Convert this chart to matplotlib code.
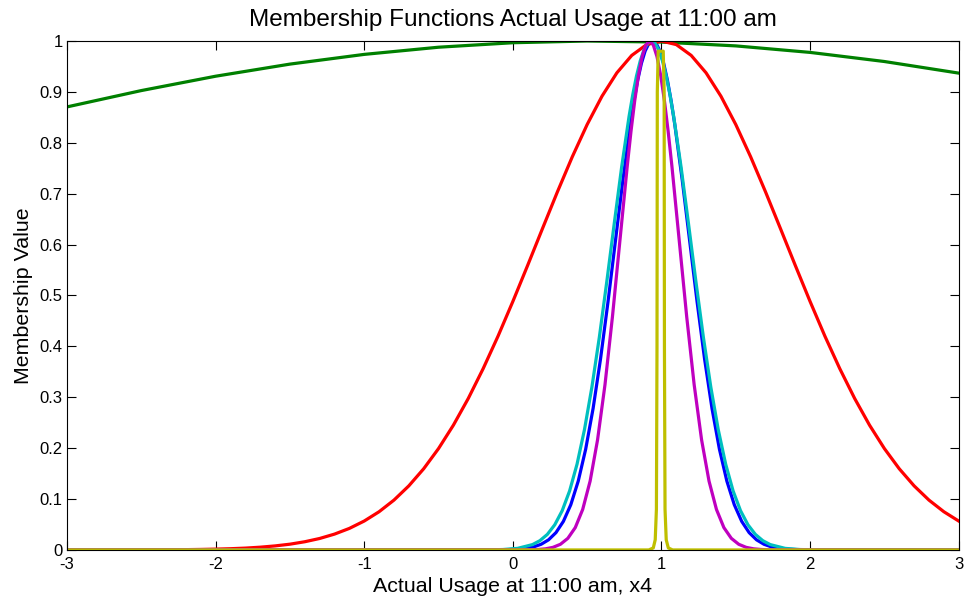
import matplotlib
matplotlib.use('Agg')
import matplotlib.pyplot as plt

plt.rcParams['font.family'] = ['Liberation Sans', 'DejaVu Sans']
plt.rcParams['axes.unicode_minus'] = False

# membership curves (x, y pairs per curve)
blue_x = [-3, -0.06, 0.04, 0.14, 0.19, 0.24, 0.29, 0.34, 0.39, 0.44, 0.49, 0.54, 0.59, 0.64, 0.69, 0.74,
          0.79, 0.815, 0.84, 0.865, 0.89, 0.915, 0.94, 0.965, 0.99, 1.015, 1.04, 1.065, 1.09, 1.14, 1.19,
          1.24, 1.29, 1.34, 1.39, 1.44, 1.49, 1.54, 1.59, 1.64, 1.69, 1.74, 1.84, 1.94, 3]
blue_y = [0, 0.0003, 0.0015, 0.0060, 0.0111, 0.0198, 0.0340, 0.0561, 0.0889, 0.1353, 0.1979, 0.2780,
          0.3753, 0.4868, 0.6065, 0.7261, 0.8353, 0.8825, 0.9231, 0.9560, 0.9802, 0.9950, 1.0, 0.9950,
          0.9802, 0.9560, 0.9231, 0.8825, 0.8353, 0.7261, 0.6065, 0.4868, 0.3753, 0.2780, 0.1979, 0.1353,
          0.0889, 0.0561, 0.0340, 0.0198, 0.0111, 0.0060, 0.0015, 0.0003, 0]

green_x = [-3, -2.5, -2, -1.5, -1, -0.5, 0, 0.5, 1, 1.5, 2, 2.5, 3]
green_y = [0.8705, 0.9026, 0.9308, 0.9546, 0.9737, 0.9878, 0.9966, 1.0, 0.9979, 0.9904, 0.9776, 0.9597, 0.9369]

red_x = [-3.0, -2.9, -2.8, -2.7, -2.6, -2.5, -2.4, -2.3, -2.2, -2.1, -2.0, -1.9, -1.8, -1.7, -1.6, -1.5,
         -1.4, -1.3, -1.2, -1.1, -1.0, -0.9, -0.8, -0.7, -0.6, -0.5, -0.4, -0.3, -0.2, -0.1, 0.0, 0.1,
         0.2, 0.3, 0.4, 0.5, 0.6, 0.7, 0.8, 0.9, 1.0, 1.1, 1.2, 1.3, 1.4, 1.5, 1.6, 1.7, 1.8, 1.9, 2.0,
         2.1, 2.2, 2.3, 2.4, 2.5, 2.6, 2.7, 2.8, 2.9, 3.0]
red_y = [0.0, 0.0, 0.0, 0.0001, 0.0001, 0.0002, 0.0003, 0.0004, 0.0006, 0.0010, 0.0016, 0.0024, 0.0036,
         0.0054, 0.0079, 0.0113, 0.0161, 0.0225, 0.0311, 0.0423, 0.0568, 0.0751, 0.0979, 0.1259, 0.1595,
         0.1992, 0.2452, 0.2976, 0.3561, 0.4199, 0.4882, 0.5594, 0.6319, 0.7037, 0.7725, 0.8359, 0.8916,
         0.9375, 0.9717, 0.9929, 1.0, 0.9929, 0.9717, 0.9375, 0.8916, 0.8359, 0.7725, 0.7037, 0.6319,
         0.5594, 0.4882, 0.4199, 0.3561, 0.2976, 0.2452, 0.1992, 0.1595, 0.1259, 0.0979, 0.0751, 0.0568]

cyan_x = [-3, -0.168, -0.068, 0.032, 0.132, 0.182, 0.232, 0.282, 0.332, 0.382, 0.432, 0.482, 0.532, 0.582,
          0.632, 0.682, 0.732, 0.782, 0.807, 0.832, 0.857, 0.882, 0.907, 0.932, 0.957, 0.982, 1.007,
          1.032, 1.057, 1.082, 1.132, 1.182, 1.232, 1.282, 1.332, 1.382, 1.432, 1.482, 1.532, 1.582,
          1.632, 1.682, 1.732, 1.832, 1.932, 2.032, 3]
cyan_y = [0, 0.0002, 0.0008, 0.0031, 0.0105, 0.0182, 0.0305, 0.0494, 0.0771, 0.1160, 0.1686, 0.2365,
          0.3201, 0.4180, 0.5269, 0.6408, 0.7522, 0.8520, 0.8947, 0.9313, 0.9607, 0.9824, 0.9956, 1.0,
          0.9956, 0.9824, 0.9607, 0.9313, 0.8947, 0.8520, 0.7522, 0.6408, 0.5269, 0.4180, 0.3201, 0.2365,
          0.1686, 0.1160, 0.0771, 0.0494, 0.0305, 0.0182, 0.0105, 0.0031, 0.0008, 0.0002, 0]

magenta_x = [-3, 0.12, 0.17, 0.22, 0.27, 0.32, 0.37, 0.42, 0.47, 0.52, 0.57, 0.62, 0.67, 0.72, 0.77,
             0.795, 0.82, 0.845, 0.87, 0.895, 0.92, 0.945, 0.97, 0.995, 1.02, 1.045, 1.07, 1.12, 1.17,
             1.22, 1.27, 1.32, 1.37, 1.42, 1.47, 1.52, 1.57, 1.62, 1.67, 1.72, 3]
magenta_y = [0, 0.0003, 0.0009, 0.0022, 0.0051, 0.0111, 0.0228, 0.0439, 0.0796, 0.1353, 0.2163, 0.3247,
             0.4578, 0.6065, 0.7548, 0.8226, 0.8825, 0.9321, 0.9692, 0.9922, 1.0, 0.9922, 0.9692, 0.9321,
             0.8825, 0.8226, 0.7548, 0.6065, 0.4578, 0.3247, 0.2163, 0.1353, 0.0796, 0.0439, 0.0228,
             0.0111, 0.0051, 0.0022, 0.0009, 0.0003, 0]

yellow_x = [-3, 0.915, 0.945, 0.958, 0.966, 0.97, 0.972, 0.978, 1.012, 1.018, 1.02, 1.024, 1.032, 1.046, 1.075, 3]
yellow_y = [0, 0, 0.004, 0.02, 0.08, 0.4, 0.9, 0.98, 0.98, 0.9, 0.4, 0.08, 0.02, 0.004, 0, 0]

# MATLAB default color order: b, g, r, c, m, y
series = [
    (blue_x, blue_y, (0, 0, 1)),
    (green_x, green_y, (0, 0.5, 0)),
    (red_x, red_y, (1, 0, 0)),
    (cyan_x, cyan_y, (0, 0.75, 0.75)),
    (magenta_x, magenta_y, (0.75, 0, 0.75)),
    (yellow_x, yellow_y, (0.75, 0.75, 0)),
]

fig = plt.figure(figsize=(9.64, 6.03), dpi=100)
ax = fig.add_axes([0.0695, 0.088, 0.925, 0.844])

for xs, ys, col in series:
    ax.plot(xs, ys, color=col, linewidth=2.3)

ax.set_xlim(-3, 3)
ax.set_ylim(0, 1)
ax.set_xticks([-3, -2, -1, 0, 1, 2, 3])
ax.set_yticks([i / 10 for i in range(11)])
ax.set_yticklabels(['0', '0.1', '0.2', '0.3', '0.4', '0.5', '0.6', '0.7', '0.8', '0.9', '1'])
ax.tick_params(axis='both', direction='in', length=6.5, width=0.8, labelsize=12,
               top=True, right=True)
ax.tick_params(axis='x', pad=5)
ax.tick_params(axis='y', pad=3)
for sp in ax.spines.values():
    sp.set_linewidth(0.8)

ax.set_title('Membership Functions Actual Usage at 11:00 am', fontsize=17.5, pad=11)
ax.set_xlabel('Actual Usage at 11:00 am, x4', fontsize=15.4, labelpad=4)
ax.set_ylabel('Membership Value', fontsize=15.4, labelpad=5)

fig.savefig('out.png', dpi=100)
